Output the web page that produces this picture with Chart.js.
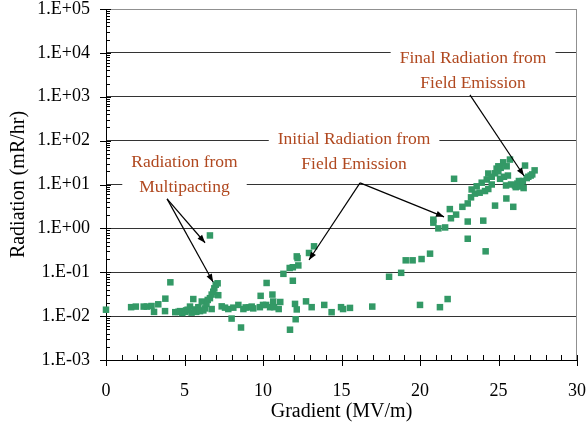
<!DOCTYPE html>
<html><head><meta charset="utf-8">
<script src="https://cdn.jsdelivr.net/npm/chart.js@4.4.0/dist/chart.umd.min.js"></script>
<style>html,body{margin:0;padding:0;background:#fff;}#wrap{width:586px;height:429px;}</style>
</head><body><div id="wrap"><canvas id="c" width="586" height="429"></canvas></div>
<script>
// ---- data ----
const gradient = [0,1.6,1.9,2.4,2.6,2.9,3.06,3.33,3.76,3.78,4.1,4.41,4.6,4.71,4.86,5.03,5.1,5.2,5.35,5.45,5.56,5.67,5.75,5.88,5.99,6.1,6.2,6.31,6.4,6.48,6.62,6.62,6.73,6.73,6.83,6.9,6.99,7.11,7.15,7.37,7.58,7.79,8.0,8.11,8.43,8.6,8.75,8.9,9.1,9.28,9.38,9.8,9.85,10.0,10.2,10.23,10.45,10.6,10.65,10.7,11.0,11.1,11.3,11.7,11.72,11.9,11.9,12.04,12.08,12.15,12.15,12.2,12.25,12.74,12.93,13.1,13.25,13.9,14.37,14.97,15.1,15.54,16.96,18.03,18.8,19.09,19.53,20.0,20.1,20.64,20.85,20.85,21.17,21.27,21.6,21.76,21.9,21.97,22.17,22.3,22.7,23.04,23.04,23.04,23.25,23.29,23.5,23.61,23.8,23.93,24.03,24.14,24.18,24.25,24.35,24.35,24.57,24.57,24.78,24.78,24.88,24.99,24.99,25.1,25.14,25.3,25.35,25.48,25.5,25.52,25.6,25.73,25.8,25.94,26.05,26.1,26.2,26.3,26.4,26.45,26.55,26.6,26.69,26.8,26.9,27.05,27.15,27.3];
const radiation = [0.014,0.016,0.0165,0.0165,0.0165,0.017,0.0125,0.0186,0.013,0.025,0.059,0.0123,0.0125,0.013,0.0118,0.0125,0.0135,0.014,0.0165,0.012,0.0245,0.0142,0.0125,0.016,0.013,0.0215,0.0135,0.015,0.019,0.0234,0.0257,0.69,0.031,0.0145,0.036,0.043,0.052,0.056,0.030,0.0167,0.0156,0.0145,0.0088,0.0156,0.018,0.0055,0.0145,0.0158,0.0158,0.0165,0.015,0.016,0.029,0.018,0.018,0.057,0.016,0.031,0.0215,0.016,0.0145,0.021,0.092,0.125,0.0049,0.064,0.13,0.019,0.0085,0.0142,0.23,0.21,0.143,0.0217,0.275,0.016,0.39,0.018,0.0123,0.016,0.0145,0.0154,0.0165,0.079,0.097,0.187,0.187,0.018,0.2,0.265,1.58,1.35,1.0,0.016,1.05,0.0245,2.75,1.7,13.5,2.06,3.1,3.7,1.43,0.58,5.1,7.7,6.2,9.1,6.5,11,1.5,7.1,0.30,13,7.9,17.8,10,15,3.3,18,23,20,26,13.5,24,32,15,9.5,4.8,26,16,37,10,3.1,9.5,8.7,10.5,12,9,11,12,8.3,27,14,15,16,17,21];
const xTickValues = [0,5,10,15,20,25,30];
const yDecades = [1e-3,1e-2,1e-1,1e0,1e1,1e2,1e3,1e4,1e5];
const yTickLabels = ['1.E-03','1.E-02','1.E-01','1.E+00','1.E+01','1.E+02','1.E+03','1.E+04','1.E+05'];
const annoLines = [
  ['Radiation from','Multipacting'],
  ['Initial Radiation from','Field Emission'],
  ['Final Radiation from','Field Emission']
];
// annotation anchors (data units): text centre, arrow start, arrow ends
const annoText = [[5.0,33],[15.8,110],[23.38,7800]];
const annoFrom = [[3.89,4.7],[16.18,10.9],[23.18,1100]];
const annoTo = [[[6.31,0.47],[6.82,0.060]],[[12.93,0.19],[21.53,1.83]],[[26.62,15.8]]];

const SERIF = '"Liberation Serif","Times New Roman",serif';
const points = gradient.map((g,i)=>({x:g,y:radiation[i]}));

const decor = {
  id:'decor',
  beforeDatasetsDraw(chart){
    const ctx=chart.ctx, a=chart.chartArea, xs=chart.scales.x, ys=chart.scales.y;
    ctx.save();
    ctx.lineWidth=1;
    ctx.strokeStyle='#909090';
    ctx.beginPath();
    ctx.moveTo(a.left, a.top+0.5); ctx.lineTo(a.right, a.top+0.5);
    ctx.moveTo(a.right-0.5, a.top); ctx.lineTo(a.right-0.5, a.bottom);
    ctx.stroke();
    ctx.strokeStyle='#000';
    ctx.beginPath();
    yDecades.forEach((d,i)=>{
      const p=Math.round(ys.getPixelForValue(d))+0.5;
      ctx.moveTo(a.left-6,p); ctx.lineTo(a.left+5,p);
      if(i<yDecades.length-1){
        for(let m=2;m<=9;m++){
          const q=Math.round(ys.getPixelForValue(m*d))+0.5;
          ctx.moveTo(a.left,q); ctx.lineTo(a.left+4,q);
        }
      }
    });
    for(let v=xs.min; v<=xs.max; v++){
      const p=Math.round(xs.getPixelForValue(v))+0.5;
      if(xTickValues.includes(v)){ ctx.moveTo(p,a.bottom-5); ctx.lineTo(p,a.bottom+6); }
      else { ctx.moveTo(p,a.bottom-5); ctx.lineTo(p,a.bottom); }
    }
    ctx.stroke();
    ctx.restore();
  },
  afterDatasetsDraw(chart){
    const ctx=chart.ctx, xs=chart.scales.x, ys=chart.scales.y;
    ctx.save();
    ctx.font='17.5px '+SERIF;
    annoLines.forEach((lines,i)=>{
      const cx=xs.getPixelForValue(annoText[i][0]);
      const cy=ys.getPixelForValue(annoText[i][1]);
      const w=Math.max(...lines.map(l=>ctx.measureText(l).width));
      ctx.fillStyle='#fff';
      ctx.fillRect(cx-w/2-9, cy-12, w+18, 25*(lines.length-1)+24);
      ctx.fillStyle='#B0481F';
      ctx.textAlign='center'; ctx.textBaseline='middle';
      lines.forEach((l,k)=>ctx.fillText(l,cx,cy+25*k+1));
      const fx=xs.getPixelForValue(annoFrom[i][0]), fy=ys.getPixelForValue(annoFrom[i][1]);
      annoTo[i].forEach(t=>{
        const tx=xs.getPixelForValue(t[0]), ty=ys.getPixelForValue(t[1]);
        ctx.strokeStyle='#000'; ctx.lineWidth=1.2;
        ctx.beginPath(); ctx.moveTo(fx,fy); ctx.lineTo(tx,ty); ctx.stroke();
        const ang=Math.atan2(ty-fy,tx-fx), L=8, W=3;
        ctx.fillStyle='#000';
        ctx.beginPath();
        ctx.moveTo(tx,ty);
        ctx.lineTo(tx-L*Math.cos(ang)+W*Math.sin(ang), ty-L*Math.sin(ang)-W*Math.cos(ang));
        ctx.lineTo(tx-L*Math.cos(ang)-W*Math.sin(ang), ty-L*Math.sin(ang)+W*Math.cos(ang));
        ctx.closePath(); ctx.fill();
      });
    });
    ctx.restore();
  }
};

new Chart(document.getElementById('c'),{
  type:'scatter',
  data:{datasets:[{data:points,pointStyle:'rect',pointRadius:4.6,pointHoverRadius:4.6,clip:false,
    backgroundColor:'#339966',borderColor:'#339966',borderWidth:0}]},
  options:{
    responsive:false, devicePixelRatio:1, animation:false,
    layout:{padding:{top:9,right:9,left:0,bottom:0}},
    plugins:{legend:{display:false},tooltip:{enabled:false}},
    scales:{
      x:{type:'linear',min:0,max:30,
        afterBuildTicks:s=>{s.ticks=xTickValues.map(v=>({value:v}));},
        afterFit:s=>{s.height=69;s.paddingLeft=0;s.paddingRight=0;},
        ticks:{font:{family:SERIF,size:18},color:'#000',padding:20,maxRotation:0,autoSkip:false},
        grid:{display:false,drawTicks:false},
        border:{display:true,color:'#000',width:1},
        title:{display:true,text:'Gradient (MV/m)',font:{family:SERIF,size:20},color:'#000',padding:{top:0,bottom:5}}
      },
      y:{type:'logarithmic',min:1e-3,max:1e5,
        afterBuildTicks:s=>{s.ticks=yDecades.map(v=>({value:v}));},
        afterFit:s=>{s.width=106;s.paddingTop=0;s.paddingBottom=0;},
        ticks:{font:{family:SERIF,size:18},color:'#000',padding:16,autoSkip:false,
          callback:(v)=>{const i=yDecades.findIndex(d=>Math.abs(d-v)/d<1e-6);return i>=0?yTickLabels[i]:'';}},
        grid:{drawTicks:false,color:c=>(c.tick&&c.tick.value===1e5)?'#909090':'#333',lineWidth:1},
        border:{display:true,color:'#000',width:1},
        title:{display:true,text:'Radiation (mR/hr)',font:{family:SERIF,size:20},color:'#000',padding:{top:7,bottom:0}}
      }
    }
  },
  plugins:[decor]
});
</script></body></html>
